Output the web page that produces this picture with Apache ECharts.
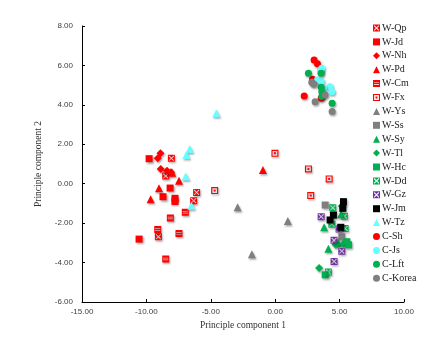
<!DOCTYPE html>
<html><head><meta charset="utf-8">
<script src="https://cdn.jsdelivr.net/npm/echarts@6/dist/echarts.min.js"></script>
<style>html,body{margin:0;padding:0;background:#fff}#c{width:447px;height:339px}</style>
</head><body><div id="c"></div>
<script>
const seriesNames = ['W-Qp','W-Jd','W-Nh','W-Pd','W-Cm','W-Fx','W-Ys','W-Ss','W-Sy','W-Tl','W-Hc','W-Dd','W-Gz','W-Jm','W-Tz','C-Sh','C-Js','C-Lft','C-Korea'];
const wQp = [[-8.06,1.29],[-8.50,0.39],[-6.10,-0.44],[-6.33,-0.86],[-9.07,-2.69]];
const wJd = [[-9.79,1.27],[-8.16,-0.22],[-8.71,-0.66],[-7.78,-0.74],[-7.78,-0.90],[-10.57,-2.81]];
const wNh = [[-8.91,1.54],[-9.12,1.29],[-8.89,0.75],[-8.40,0.66],[-8.09,0.58]];
const wPd = [[-7.47,0.15],[-9.02,-0.23],[-9.67,-0.79],[-8.00,0.55],[-0.95,0.70]];
const wCm = [[-6.98,-1.45],[-8.14,-1.74],[-9.12,-2.32],[-7.47,-2.52],[-8.50,-3.82]];
const wFx = [[-4.70,-0.35],[-0.02,1.54],[2.58,0.75],[4.19,0.24],[2.76,-0.60]];
const wYs = [[-2.92,-1.20],[0.98,-1.89],[-1.81,-3.58]];
const wSs = [[3.88,-1.08],[5.17,-2.70]];
const wSy = [[3.80,-2.21],[5.12,-1.55],[4.13,-3.30],[4.90,-3.00]];
const wTl = [[5.17,-1.13],[3.41,-4.28],[5.30,-3.05],[4.70,-3.10]];
const wHc = [[5.56,-2.94],[3.88,-4.62],[5.70,-3.10]];
const wDd = [[4.47,-1.22],[5.37,-1.65],[4.40,-2.05],[5.43,-2.27],[4.13,-4.48]];
const wGz = [[3.57,-1.67],[4.96,-2.30],[4.57,-2.87],[5.17,-3.42],[4.57,-3.94]];
const wJm = [[5.30,-0.91],[4.52,-1.59],[4.26,-1.84],[5.25,-1.25],[5.09,-2.21]];
const wTz = [[-6.64,1.76],[-6.90,1.46],[-6.95,0.36],[-6.51,-1.12],[-4.57,3.57]];
const cSh = [[3.02,6.28],[3.28,6.08],[2.25,4.45],[3.57,4.33],[2.90,5.30]];
const cJs = [[3.62,5.86],[3.51,5.69],[3.28,5.26],[3.57,5.18],[4.24,4.92],[4.40,4.67],[3.74,4.84]];
const cLft = [[2.58,5.60],[3.57,5.60],[3.57,4.89],[3.62,4.67],[3.62,4.42],[4.42,4.08]];
const cKorea = [[2.84,5.15],[3.00,5.05],[3.10,4.16],[3.88,4.50],[4.42,3.66]];
const xTicks = [-15,-10,-5,0,5,10];
const yTicks = [-6,-4,-2,0,2,4,6,8];

const RED='#FF0000', GRAY='#7F7F7F', GREEN='#00B050', CYAN='#66FFFF', PURPLE='#7030A0', BLACK='#000000';
const FRAME='M0 0H10V10H0Z M1.3 1.3V8.7H8.7V1.3Z ';
const XSQ = 'path://'+FRAME+'M2.3 1.3H7.7L5 4ZM8.7 2.3V7.7L6 5ZM7.7 8.7H2.3L5 6ZM1.3 7.7V2.3L4 5Z';
const CMSQ = 'path://'+FRAME+'M1.3 1.3H8.7V3.3H1.3ZM1.3 4.3H8.7V5.7H1.3ZM1.3 6.7H8.7V8.7H1.3Z';
const FXSQ = 'path://M0 0H10V10H0Z M1.6 1.6V8.4H8.4V1.6Z M3.6 3.6H6.4V6.4H3.6Z';

const spec = [
 ['W-Qp', wQp, XSQ, 7, RED],
 ['W-Jd', wJd, 'rect', 7, RED],
 ['W-Nh', wNh, 'diamond', 8, RED],
 ['W-Pd', wPd, 'triangle', 8, RED],
 ['W-Cm', wCm, CMSQ, 7, RED],
 ['W-Fx', wFx, FXSQ, 7, RED],
 ['W-Ys', wYs, 'triangle', 8, GRAY],
 ['W-Ss', wSs, 'rect', 7, GRAY],
 ['W-Sy', wSy, 'triangle', 8, GREEN],
 ['W-Tl', wTl, 'diamond', 8, GREEN],
 ['W-Hc', wHc, 'rect', 7, GREEN],
 ['W-Dd', wDd, XSQ, 7, GREEN],
 ['W-Gz', wGz, XSQ, 7, PURPLE],
 ['W-Jm', wJm, 'rect', 7, BLACK],
 ['W-Tz', wTz, 'triangle', 8, CYAN],
 ['C-Sh', cSh, 'circle', 7, RED],
 ['C-Js', cJs, 'circle', 7, CYAN],
 ['C-Lft', cLft, 'circle', 7, GREEN],
 ['C-Korea', cKorea, 'circle', 7, GRAY]
];

const series = spec.map(s => ({
  name: s[0], type: 'scatter', data: s[1], symbol: s[2], symbolSize: s[3],
  itemStyle: { color: s[4], opacity: 1, shadowBlur: 2, shadowColor: 'rgba(0,0,0,0.35)', shadowOffsetX: 1, shadowOffsetY: 1.5 },
  emphasis: { disabled: true }
}));

const chart = echarts.init(document.getElementById('c'), null, { renderer: 'canvas' });
chart.setOption({
  animation: false,
  backgroundColor: '#ffffff',
  grid: { left: 82, right: 43, top: 26, bottom: 37, containLabel: false, outerBoundsMode: 'none' },
  legend: {
    data: seriesNames, orient: 'vertical', left: 368, top: 18,
    itemWidth: 7, itemHeight: 7, itemGap: 3.9, selectedMode: false,
    itemStyle: { shadowBlur: 0, shadowColor: 'transparent', shadowOffsetX: 0, shadowOffsetY: 0 },
    textStyle: { fontFamily: 'Liberation Serif', fontSize: 10, lineHeight: 10, color: '#222', padding: [0,0,0,-3] }
  },
  xAxis: {
    type: 'value', min: -15, max: 10, interval: 5,
    name: 'Principle component 1', nameLocation: 'middle', nameGap: 16,
    nameTextStyle: { fontFamily: 'Liberation Serif', fontSize: 9.5, color: '#333' },
    axisLine: { onZero: false, lineStyle: { color: '#000', width: 1 } },
    axisTick: { inside: true, length: 3, lineStyle: { color: '#000' } },
    axisLabel: { margin: 6, fontFamily: 'Liberation Sans', fontSize: 8, color: '#404040',
      formatter: v => xTicks.includes(v) ? v.toFixed(2) : '' },
    splitLine: { show: false }
  },
  yAxis: {
    type: 'value', min: -6, max: 8, interval: 2,
    name: 'Principle component 2', nameLocation: 'middle', nameGap: 30, nameRotate: 90,
    nameTextStyle: { fontFamily: 'Liberation Serif', fontSize: 9.5, color: '#333' },
    axisLine: { show: true, onZero: false, lineStyle: { color: '#000', width: 1 } },
    axisTick: { show: true, inside: true, length: 3, lineStyle: { color: '#000' } },
    axisLabel: { margin: 9, fontFamily: 'Liberation Sans', fontSize: 8, color: '#404040',
      formatter: v => yTicks.includes(v) ? v.toFixed(2) : '' },
    splitLine: { show: false }
  },
  series: series
});
</script></body></html>
